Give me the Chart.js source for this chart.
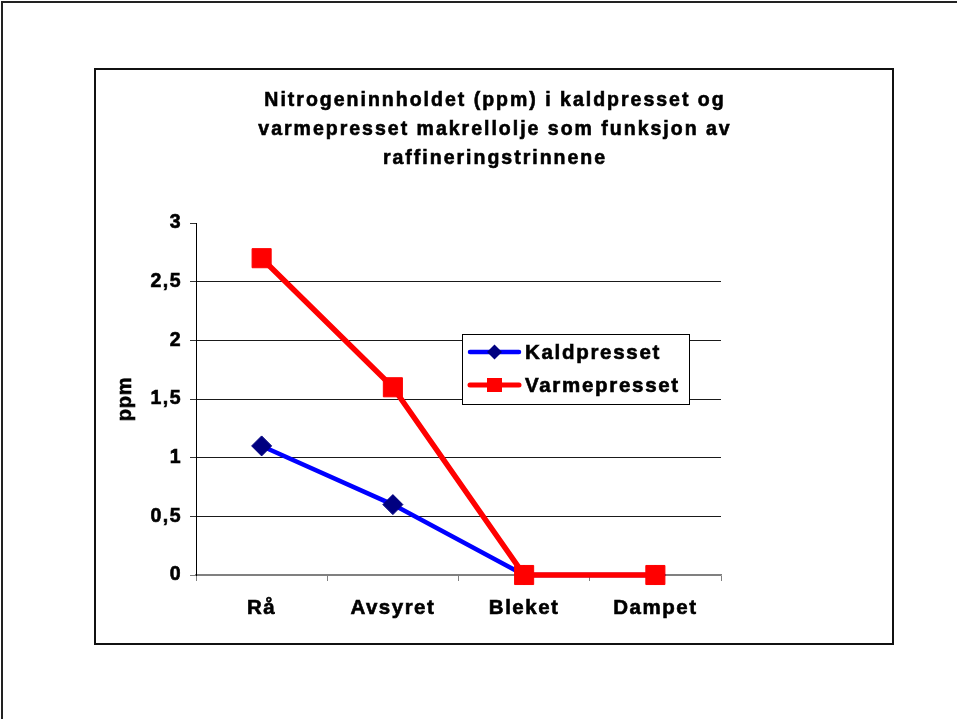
<!DOCTYPE html>
<html>
<head>
<meta charset="utf-8">
<style>
  html, body { margin: 0; padding: 0; background: #fff; }
  canvas { display: block; }
</style>
<script src="https://cdn.jsdelivr.net/npm/chart.js"></script>
</head>
<body>
<canvas id="chart" width="957" height="719"></canvas>
<script>
const categories = ['Rå', 'Avsyret', 'Bleket', 'Dampet'];
const kaldpresset = [1.1, 0.6, 0, 0];
const varmepresset = [2.7, 1.6, 0, 0];
const titleLines = [
    'Nitrogeninnholdet (ppm) i kaldpresset og',
    'varmepresset makrellolje som funksjon av',
    'raffineringstrinnene'
];
const yTitle = 'ppm';

const FONT = "'Liberation Sans', Arial, sans-serif";

// bold text drawn with a thin outline to look like the heavy original
function heavyText(ctx, text, x, y, size, spacing) {
    ctx.font = 'bold ' + size + 'px ' + FONT;
    ctx.letterSpacing = spacing + 'px';
    ctx.fillStyle = '#000';
    ctx.strokeStyle = '#000';
    ctx.lineWidth = 0.6;
    ctx.fillText(text, x, y);
    ctx.strokeText(text, x, y);
}

// frames, title, axis title and the legend box are drawn by hand
const framePlugin = {
    id: 'frame',
    beforeDraw: (chart) => {
        const ctx = chart.ctx;
        ctx.letterSpacing = '1.5px';
        ctx.save();
        ctx.fillStyle = '#fff';
        ctx.fillRect(0, 0, chart.width, chart.height);
        ctx.fillStyle = '#222';
        ctx.fillRect(1, 1, chart.width - 1, 2);
        ctx.fillRect(1, 1, 2, chart.height - 1);
        ctx.strokeStyle = '#111';
        ctx.lineWidth = 2;
        ctx.strokeRect(95, 69, 798, 575);

        ctx.textAlign = 'center';
        ctx.textBaseline = 'middle';
        const ys = [101, 130, 159];
        titleLines.forEach((line, i) => heavyText(ctx, line, 495, ys[i], 19.5, 2));

        ctx.translate(125, 399);
        ctx.rotate(-Math.PI / 2);
        heavyText(ctx, yTitle, 0, 0, 20, 0.8);
        ctx.restore();
    },
    afterDraw: (chart) => {
        const ctx = chart.ctx;
        ctx.save();
        ctx.fillStyle = '#fff';
        ctx.fillRect(462, 334, 227, 70);
        ctx.strokeStyle = '#000';
        ctx.lineWidth = 1;
        ctx.strokeRect(462.5, 334.5, 227, 70);

        const rows = [
            { label: chart.data.datasets[0].label, y: 352, color: '#0000FF', width: 4.5, marker: 'diamond' },
            { label: chart.data.datasets[1].label, y: 385, color: '#FF0000', width: 5, marker: 'square' }
        ];
        rows.forEach((r) => {
            ctx.strokeStyle = r.color;
            ctx.lineWidth = r.width;
            ctx.lineCap = 'round';
            ctx.beginPath();
            ctx.moveTo(470, r.y);
            ctx.lineTo(519, r.y);
            ctx.stroke();
            if (r.marker === 'diamond') {
                ctx.fillStyle = '#000080';
                ctx.beginPath();
                ctx.moveTo(494.5, r.y - 7.5);
                ctx.lineTo(502, r.y);
                ctx.lineTo(494.5, r.y + 7.5);
                ctx.lineTo(487, r.y);
                ctx.closePath();
                ctx.fill();
            } else {
                ctx.fillStyle = '#FF0000';
                ctx.fillRect(487, r.y - 7, 15, 14);
            }
            ctx.textAlign = 'left';
            ctx.textBaseline = 'middle';
            heavyText(ctx, r.label, 525, r.y + 1, 20.5, 1.7);
        });
        ctx.restore();
    }
};

const ctx = document.getElementById('chart').getContext('2d');
const chart = new Chart(ctx, {
    type: 'line',
    data: {
        labels: categories,
        datasets: [
            {
                label: 'Kaldpresset',
                data: kaldpresset,
                borderColor: '#0000FF',
                borderWidth: 4.5,
                pointStyle: 'rectRot',
                pointRadius: 10,
                pointBackgroundColor: '#000080',
                pointBorderColor: '#000080',
                pointBorderWidth: 1,
                tension: 0,
                clip: false,
                order: 2
            },
            {
                label: 'Varmepresset',
                data: varmepresset,
                borderColor: '#FF0000',
                borderWidth: 5.5,
                pointStyle: 'rect',
                pointRadius: 13.5,
                pointBackgroundColor: '#FF0000',
                pointBorderColor: '#FF0000',
                pointBorderWidth: 1,
                tension: 0,
                clip: false,
                order: 1
            }
        ]
    },
    options: {
        responsive: false,
        animation: false,
        events: [],
        layout: {
            padding: { left: 110, right: 236, top: 223, bottom: 100 }
        },
        plugins: {
            legend: { display: false },
            title: { display: false },
            tooltip: { enabled: false }
        },
        scales: {
            x: {
                offset: true,
                afterFit: (scale) => { scale.height = 44; },
                grid: {
                    offset: true,
                    drawOnChartArea: false,
                    tickLength: 6,
                    color: '#808080'
                },
                border: { color: '#808080', width: 1.5 },
                ticks: {
                    color: '#000',
                    padding: 15,
                    textStrokeColor: '#000',
                    textStrokeWidth: 0.6,
                    font: { family: FONT, size: 20.5, weight: 'bold' }
                }
            },
            y: {
                min: 0,
                max: 3,
                afterFit: (scale) => { scale.width = 86; },
                grid: {
                    tickLength: 6,
                    color: (c) => {
                        const v = c.tick ? c.tick.value : null;
                        if (v === 3) return 'rgba(0,0,0,0)';
                        if (v === 0) return '#808080';
                        return '#1a1a1a';
                    },
                    tickColor: (c) => (c.tick && c.tick.value === 0 ? '#808080' : '#333')
                },
                border: { color: '#000', width: 1 },
                ticks: {
                    stepSize: 0.5,
                    color: '#000',
                    padding: 8,
                    textStrokeColor: '#000',
                    textStrokeWidth: 0.6,
                    font: { family: FONT, size: 19.5, weight: 'bold' },
                    callback: (v) => String(v).replace('.', ',')
                }
            }
        }
    },
    plugins: [framePlugin]
});
</script>
</body>
</html>
